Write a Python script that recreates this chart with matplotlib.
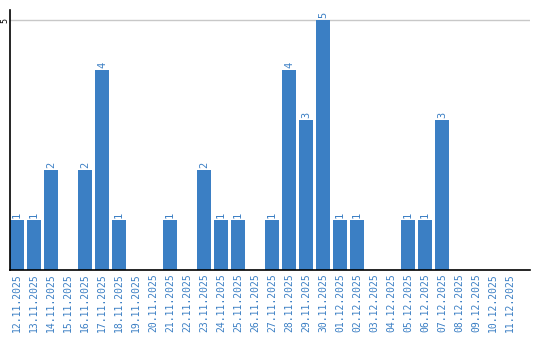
import matplotlib
matplotlib.use("Agg")
from matplotlib import pyplot as plt

# Podaci
dates = ["12.11.2025", "13.11.2025", "14.11.2025", "15.11.2025", "16.11.2025",
         "17.11.2025", "18.11.2025", "19.11.2025", "20.11.2025", "21.11.2025",
         "22.11.2025", "23.11.2025", "24.11.2025", "25.11.2025", "26.11.2025",
         "27.11.2025", "28.11.2025", "29.11.2025", "30.11.2025", "01.12.2025",
         "02.12.2025", "03.12.2025", "04.12.2025", "05.12.2025", "06.12.2025",
         "07.12.2025", "08.12.2025", "09.12.2025", "10.12.2025", "11.12.2025"]
counts = [1, 1, 2, 0, 2, 4, 1, 0, 0, 1, 0, 2, 1, 1, 0,
          1, 4, 3, 5, 1, 1, 0, 0, 1, 1, 3, 0, 0, 0, 0]

blue = "#3b7fc4"

fig = plt.figure(figsize=(5.4, 3.4), dpi=100)
ax = fig.add_axes([10/540, 70/340, 520/540, 260/340])

x = range(len(dates))
ax.bar(x, counts, width=14/17, color=blue, zorder=2)

for i, c in zip(x, counts):
    if c > 0:
        ax.text(i, c + 0.04, str(c), rotation=90, ha="center", va="bottom",
                color=blue, fontsize=7.5, family="DejaVu Sans Mono")

ax.set_xlim(-7/17, 29 + 20/17)
ax.set_ylim(0, 5.2)
ax.set_xticks(list(x))
ax.set_xticklabels(dates, rotation=90, color=blue, fontsize=7,
                   family="DejaVu Sans Mono")
ax.set_yticks([5])
ax.set_yticklabels(["5"], rotation=90, va="center", fontsize=6,
                   family="DejaVu Sans Mono")
ax.tick_params(axis="both", length=0, pad=2)
ax.tick_params(axis="y", pad=0.5)
ax.axhline(5, color="#c8c8c8", linewidth=1, zorder=1)

ax.spines["top"].set_visible(False)
ax.spines["right"].set_visible(False)
ax.spines["left"].set_linewidth(1.2)
ax.spines["bottom"].set_linewidth(1.2)

fig.savefig("out.png", dpi=100)
